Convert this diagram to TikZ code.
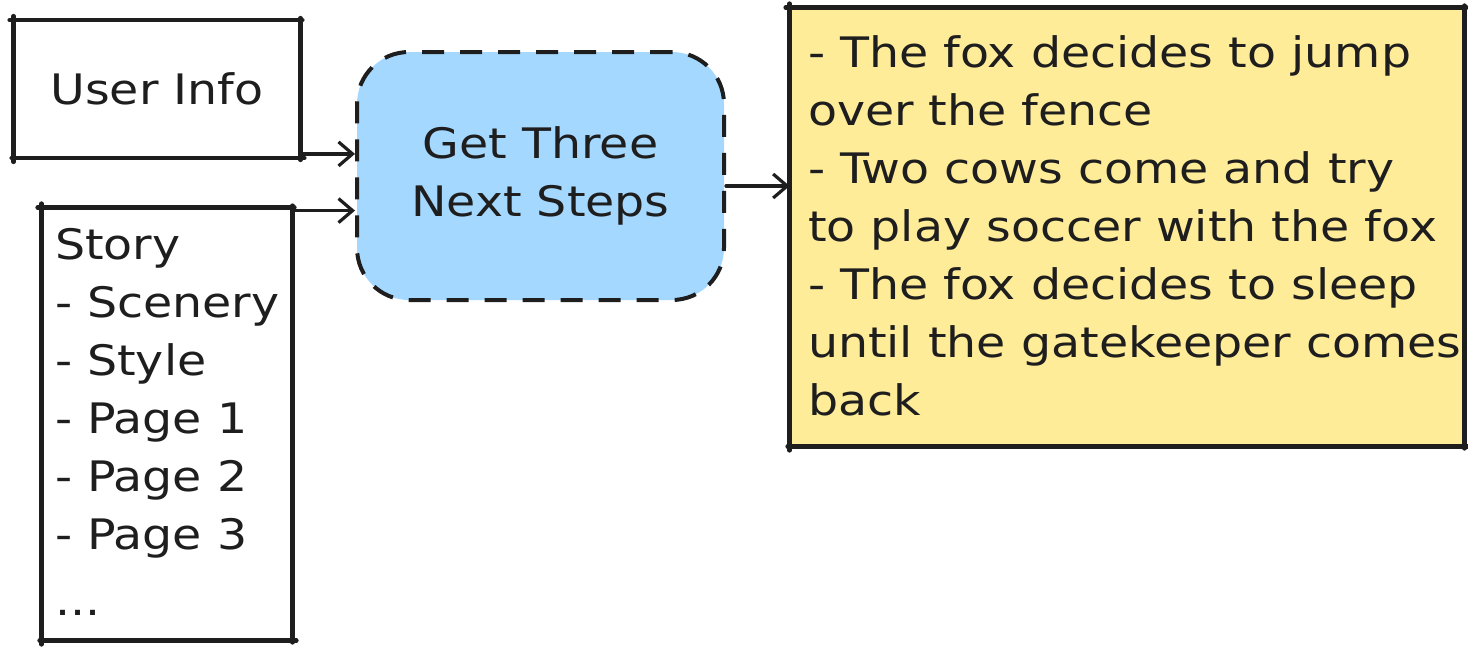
\documentclass[tikz,border=0pt]{standalone}
\usepackage{fontspec}
\setmainfont[FakeStretch=1.13]{DejaVu Sans}
\usetikzlibrary{arrows.meta,calc}
\definecolor{ink}{HTML}{1E1E1E}
\definecolor{skyfill}{HTML}{A5D8FF}
\definecolor{notefill}{HTML}{FFEC99}
\begin{document}
\begin{tikzpicture}[x=0.5pt,y=-0.5pt,
  every node/.style={text=ink},
  sketchbox/.style={draw=none,rectangle,inner sep=0pt},
  edge/.style={draw=ink,line width=2.2pt,line cap=round},
  handtext/.style={font=\fontsize{21}{29}\selectfont},
  listtext/.style={handtext,align=left,anchor=west,inner sep=0pt},
  flow/.style={draw=ink,line width=1.6pt,line cap=round,-{Straight Barb[length=7pt,width=12pt,line width=1.6pt]}}
]
\useasboundingbox (0,0) rectangle (1468,648);

% input boxes
\node[sketchbox,handtext,minimum width=143pt,minimum height=68.5pt] (user) at (157,89) {User Info};
\node[sketchbox,minimum width=125pt,minimum height=216pt] (story) at (167,424) {};
\node[listtext] (storytext) at ([xshift=6.5pt,yshift=1pt]story.west)
  {Story\\- Scenery\\- Style\\- Page 1\\- Page 2\\- Page 3\\[4pt]...};

% processing step
\node[draw=ink,line width=2pt,dash pattern=on 11pt off 8pt,fill=skyfill,
      rounded corners=26pt,minimum width=183.5pt,minimum height=124pt,
      handtext,align=center] (steps) at (540.5,176) {Get Three\\Next Steps};

% output note
\node[sketchbox,fill=notefill,minimum width=337pt,minimum height=219pt] (result) at (1127,227) {};
\node[listtext] (resulttext) at ([xshift=9pt,yshift=0.5pt]result.west)
  {- The fox decides to jump\\over the fence\\- Two cows come and try\\to play soccer with the fox\\- The fox decides to sleep\\until the gatekeeper comes\\back};

% hand-drawn outlines with slight overshoot at the corners
\foreach \b in {user,story,result}{
  \draw[edge] ([xshift=-2pt]\b.north west) -- ([xshift=1pt]\b.north east);
  \draw[edge] ([xshift=-1pt]\b.south west) -- ([xshift=2pt]\b.south east);
  \draw[edge] ([yshift=2pt]\b.north west) -- ([yshift=-2pt]\b.south west);
  \draw[edge] ([yshift=1pt]\b.north east) -- ([yshift=-1pt]\b.south east);
}

% connectors
\draw[flow] ([yshift=2pt]user.south east) -- ([yshift=2pt]user.south east -| steps.west);
\draw[flow] ([yshift=-1.5pt]story.north east) -- ([yshift=-1.5pt]story.north east -| steps.west);
\draw[flow] ([yshift=-5pt]steps.east) -- ([yshift=-5pt]steps.east -| result.west);
\end{tikzpicture}
\end{document}
